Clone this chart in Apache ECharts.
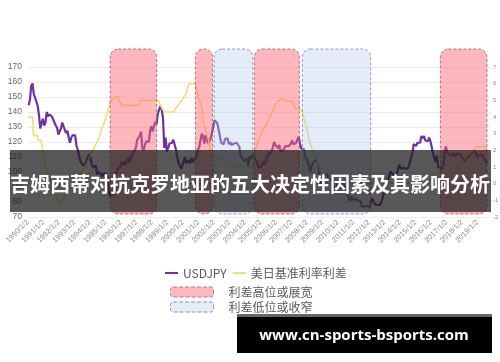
<!DOCTYPE html>
<html><head><meta charset="utf-8">
<script src="https://cdn.jsdelivr.net/npm/echarts@6/dist/echarts.min.js"></script>
<style>html,body{margin:0;padding:0;background:#fff}#c{width:500px;height:362px}</style>
</head><body><div id="c"></div>
<script>
// ---------------- data ----------------
const usdjpyStartYear = 1990; // monthly values from Jan 1990
const usdjpyMonthly = [
  144.5,148,157.5,159,152,153,147,144,138,129,133,135.5,
  131,133,140,137,138.5,138,137,137,133,131,129.5,125,
  125.5,129,133,133,128,126,127.5,123,119.5,123,124.5,124.5,
  124.5,117.5,115,111,107.5,106.5,104.5,104,105.5,108,109,112,
  109,104.5,103,102.5,104.5,98.5,100,100,98.5,97,99,99.7,
  99,97,88,84,83,84.5,88,97,99.5,102,101.5,103.5,
  107,104.5,107,104.5,108,109.5,106.5,108.5,111.5,113,113.5,116,
  121.5,120.5,124,127,116,114.5,118,120.5,121,120,127.5,130.5,
  127,126,133.5,132,139,138.5,144,141.5,136,116,123,113.5,
  116,119,119.5,119.5,121.5,121,115,110,106,104.5,102,102.5,
  107,110,105.5,108,107.5,106,109.5,106.5,108,109,110.5,114.5,
  116.5,117,125.5,124,119,124.5,125,119,119.5,122.5,123.5,131,
  134.5,133.5,132.5,128.5,124,119.5,120,118.5,122,122.5,122.5,118.5,
  120,118,118,119,119.5,119.5,120.5,117,111.5,110,109.5,107,
  106,109,104,110.5,109.5,109,111.5,109.5,110,106,103,103.5,
  103.5,104.5,107,105,108.5,110.5,112.5,111.5,113.5,116.5,120,118,
  117.5,116,118,113.5,112.5,114.5,114.5,117.5,118,117,116,119,
  121,118.5,118,119.5,121.5,123.5,119,115.5,115,115.5,111,112,
  106.5,104,100,104,105.5,106,108,108.5,106,98.5,95.5,90.5,
  89.5,97.5,98.5,98.5,95.5,96.5,95,93,90,90.5,86.5,93,
  90.5,89,93.5,94,91.5,88.5,86.5,84.5,83.5,80.5,83.5,81.5,
  82,82,83,81,81.5,80.5,77,76.5,77,78,77.5,77,
  76.5,81,82.5,80,78.5,79.5,78,78.5,78,80,82.5,86.5,
  91.5,92.5,94,97.5,100.5,99,98,98,98,98.5,102.5,105,
  102,102,103,102,102,101.5,103,104,109.5,112,118.5,119.5,
  117.5,119.5,120,119.5,124,122.5,124,121,120,120.5,123,120.5,
  121,112.5,112.5,106.5,111,103,102,103,101.5,105,114,117,
  113,112,111.5,111.5,111,112.5,110.5,110,112.5,113.5,112,112.5,
  109,106.5,106,109,109,110.5,112,111,113.5,113,113.5,110,
  109,111.5,111,111.5,109.5,108,109,106
];
const spreadYears = [
  1990.0,1990.3,1990.35,1990.6,1990.65,1990.85,1990.95,1991.1,1991.3,1991.5,1991.7,1991.95,
  1992.3,1992.6,1993.0,1993.3,1993.7,1994.0,1994.3,1994.6,1994.8,1995.05,1995.3,1995.6,1995.8,
  1995.9,1996.1,1997.15,1997.25,1998.4,1998.6,1998.8,1999.4,1999.6,1999.8,2000.0,2000.2,2000.3,
  2000.4,2000.8,2000.95,2001.2,2001.3,2001.45,2001.65,2001.75,2001.9,2002.8,2002.9,2003.5,2004.5,
  2004.65,2004.85,2005.15,2005.45,2005.75,2006.05,2006.4,2006.55,2007.1,2007.2,2007.6,2007.75,
  2007.95,2008.15,2008.35,2008.55,2008.8,2009.0,2015.9,2016.0,2016.9,2017.0,2017.2,2017.45,
  2017.95,2018.2,2018.45,2018.7,2018.95,2019.55,2019.6,2019.75
];
const spreadValues = [
  4.0,4.0,2.9,2.9,2.6,2.6,2.0,1.0,0.6,0.1,-0.5,-1.1,
  -0.9,-0.4,0.0,0.5,1.0,1.7,2.2,2.8,3.4,4.0,4.9,5.2,5.25,
  4.9,4.7,4.7,5.0,5.0,4.6,4.3,4.3,4.6,4.85,5.1,5.4,5.8,
  6.0,6.0,5.3,4.6,3.7,3.2,2.6,2.0,1.6,1.3,1.2,1.0,1.0,
  2.0,2.6,3.2,3.7,4.3,4.9,5.1,5.0,4.9,4.5,4.5,4.1,
  3.4,2.6,2.0,1.6,1.0,0.1,0.05,0.4,0.4,0.6,0.75,1.0,
  1.25,1.5,1.75,2.0,2.2,2.2,1.9,1.8
];
const highRanges = [[1995.3,1998.3],[2000.8,2001.9],[2004.6,2007.5],[2016.6,2019.6]];
const lowRanges = [[2002.0,2004.5],[2007.7,2012.1]];
const seriesNames = ['USDJPY','美日基准利率利差','利差高位或展宽','利差低位或收窄'];
const titleText = '吉姆西蒂对抗克罗地亚的五大决定性因素及其影响分析';
const watermarkText = 'www.cn-sports-bsports.com';

// ---------------- build ----------------
const usdjpyData = usdjpyMonthly.map((v,i)=>[usdjpyStartYear + (i+0.5)/12, v]);
const spreadData = spreadYears.map((y,i)=>[y, spreadValues[i]]);

function regionRender(fill, stroke){
  return function(params, api){
    const x0 = api.coord([api.value(0), 70])[0];
    const x1 = api.coord([api.value(1), 70])[0];
    const cs = params.coordSys;
    return {type:'rect', shape:{x:x0, y:cs.y-18, width:x1-x0, height:cs.height+15, r:8},
      style:{fill:fill, stroke:stroke, lineWidth:1, lineDash:[3,2]}};
  };
}

const chart = echarts.init(document.getElementById('c'), null, {renderer:'canvas'});
const gray = '#595959';
chart.setOption({
  animation:false,
  backgroundColor:'#fff',
  grid:{left:28, right:10, top:67, bottom:145, outerBoundsMode:'none'},
  xAxis:{type:'value', min:1990, max:2019.8, interval:1,
    axisLine:{show:true, lineStyle:{color:'#d9d9d9'}},
    axisTick:{show:true, length:3, lineStyle:{color:'#d9d9d9'}},
    splitLine:{show:false},
    axisLabel:{rotate:45, fontSize:7.5, color:'#8c8c8c', margin:4,
      formatter:v=>Number.isInteger(v)? v+'/1/2' : ''}
  },
  yAxis:[
    {type:'value', min:70, max:170, interval:10, position:'left',
      axisLine:{show:false}, axisTick:{show:false},
      splitLine:{lineStyle:{color:'#ececec'}},
      axisLabel:{fontSize:8.5, color:'#666', margin:6}},
    {type:'value', min:-2, max:7, interval:1, position:'right',
      axisLine:{show:false}, axisTick:{show:false}, splitLine:{show:false},
      axisLabel:{fontSize:6, color:'#8c8c8c', margin:3}}
  ],
  legend:[
    {data:[
      {name:seriesNames[0], icon:'rect', itemStyle:{color:'#7030a0'}},
      {name:seriesNames[1], icon:'rect', itemStyle:{color:'#f5dc74'}}
     ], left:160, top:262, itemWidth:13, itemHeight:2, itemGap:6,
      textStyle:{fontSize:12, color:gray, fontFamily:'Noto Sans CJK SC'}},
    {data:[
      {name:seriesNames[2], icon:'roundRect', itemStyle:{color:'#ffb8bf', borderColor:'#b07f8a', borderType:'dashed', borderWidth:1}},
      {name:seriesNames[3], icon:'roundRect', itemStyle:{color:'#e6ecf7', borderColor:'#8d91a8', borderType:'dashed', borderWidth:1}}
     ], orient:'vertical', left:165, top:281, itemWidth:43, itemHeight:10, itemGap:3,
      textStyle:{fontSize:12, color:gray, fontFamily:'Noto Sans CJK SC', padding:[0,0,0,10]}}
  ],
  series:[
    {name:seriesNames[0], type:'line', yAxisIndex:0, data:usdjpyData, symbol:'none', z:2,
      lineStyle:{color:'#7030a0', width:2.2}, itemStyle:{color:'#7030a0'}},
    {name:seriesNames[1], type:'line', yAxisIndex:1, data:spreadData, symbol:'none', z:2,
      lineStyle:{color:'#f5dc74', width:1.6}, itemStyle:{color:'#f5dc74'}},
    {name:seriesNames[2], type:'custom', yAxisIndex:0, data:highRanges, encode:{x:[0,1]}, z:3,
      renderItem:regionRender('rgba(255,105,120,0.48)','rgba(150,90,105,0.8)'), itemStyle:{color:'#ffb8bf'}},
    {name:seriesNames[3], type:'custom', yAxisIndex:0, data:lowRanges, encode:{x:[0,1]}, z:3,
      renderItem:regionRender('rgba(185,205,238,0.38)','rgba(130,135,160,0.8)'), itemStyle:{color:'#e6ecf7'}}
  ],
  graphic:[
    {type:'rect', z:100, shape:{x:10, y:150, width:481, height:62}, style:{fill:'rgba(30,30,30,0.74)'}},
    {type:'text', z:101, style:{text:titleText, x:250, y:184, textAlign:'center', textVerticalAlign:'middle',
      fill:'#fff', font:'bold 20px "Noto Sans CJK SC"'}},
    {type:'rect', z:100, shape:{x:237, y:314, width:255, height:39}, style:{fill:'#000'}},
    {type:'rect', z:101, shape:{x:237, y:314, width:255, height:3}, style:{fill:'#666'}},
    {type:'text', z:102, style:{text:watermarkText, x:364, y:336, textAlign:'center', textVerticalAlign:'middle',
      fill:'#fff', font:'bold 15px "Open Sans"'}}
  ]
});
</script></body></html>
